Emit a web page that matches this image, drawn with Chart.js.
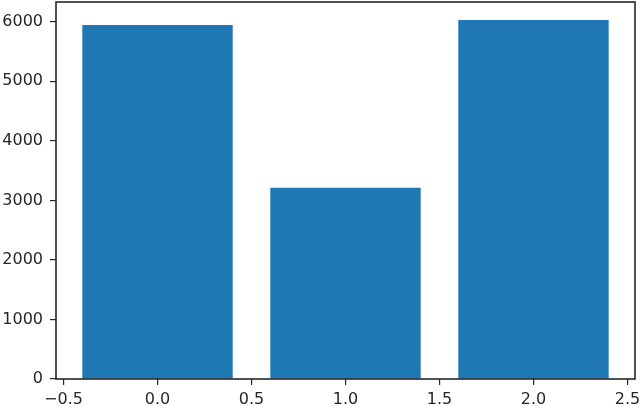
<!DOCTYPE html>
<html>
<head>
<meta charset="utf-8">
<script src="https://cdn.jsdelivr.net/npm/chart.js@4/dist/chart.umd.min.js"></script>
<style>
  html, body { margin: 0; padding: 0; background: #fff; }
  #wrap { width: 640px; height: 406px; }
</style>
</head>
<body>
<div id="wrap"><canvas id="chart" width="640" height="406"></canvas></div>
<script>
// bar positions and heights
const positions = [0, 1, 2];
const values = [5945, 3210, 6030];
const xTicks = [-0.5, 0.0, 0.5, 1.0, 1.5, 2.0, 2.5];
const yTicks = [0, 1000, 2000, 3000, 4000, 5000, 6000];

const ink = "#262626";
const font = { family: "DejaVu Sans", size: 16 };

const fmt = v => v.toFixed(1).replace("-", "\u2212");

// matplotlib-like box around the axes
const frame = {
  id: "frame",
  afterDraw(chart) {
    const a = chart.chartArea;
    const ctx = chart.ctx;
    ctx.save();
    ctx.strokeStyle = ink;
    ctx.lineWidth = 1.6;
    ctx.strokeRect(a.left, a.top, a.right - a.left, a.bottom - a.top);
    ctx.restore();
  }
};

new Chart(document.getElementById("chart"), {
  type: "bar",
  data: {
    datasets: [{
      data: positions.map((x, i) => ({ x: x, y: values[i] })),
      backgroundColor: "#1f77b4",
      borderWidth: 0,
      // the bar ruler uses the 0.5 tick spacing, so 1.6 of it = 0.8 data units
      categoryPercentage: 1.0,
      barPercentage: 1.6
    }]
  },
  options: {
    responsive: false,
    animation: false,
    layout: { padding: { top: 2, right: 5, left: 0, bottom: 0 } },
    plugins: { legend: { display: false }, tooltip: { enabled: false } },
    scales: {
      x: {
        type: "linear",
        offset: false,
        min: -0.54,
        max: 2.54,
        afterBuildTicks: s => { s.ticks = xTicks.map(v => ({ value: v })); },
        afterFit: s => { s.height = 27; s.paddingLeft = 0; s.paddingRight = 0; },
        grid: { offset: false, drawOnChartArea: false, drawTicks: true, tickLength: 6, color: ink, lineWidth: 1.2 },
        border: { display: false },
        ticks: { color: ink, font: font, padding: 5, maxRotation: 0, autoSkip: false, callback: v => fmt(v) }
      },
      y: {
        min: 0,
        max: 6331,
        afterBuildTicks: s => { s.ticks = yTicks.map(v => ({ value: v })); },
        afterFit: s => { s.width = 56; s.paddingTop = 0; s.paddingBottom = 0; },
        grid: { drawOnChartArea: false, drawTicks: true, tickLength: 6, color: ink, lineWidth: 1.2 },
        border: { display: false },
        ticks: { color: ink, font: font, padding: 7, autoSkip: false, callback: v => String(v) }
      }
    }
  },
  plugins: [frame]
});
</script>
</body>
</html>
